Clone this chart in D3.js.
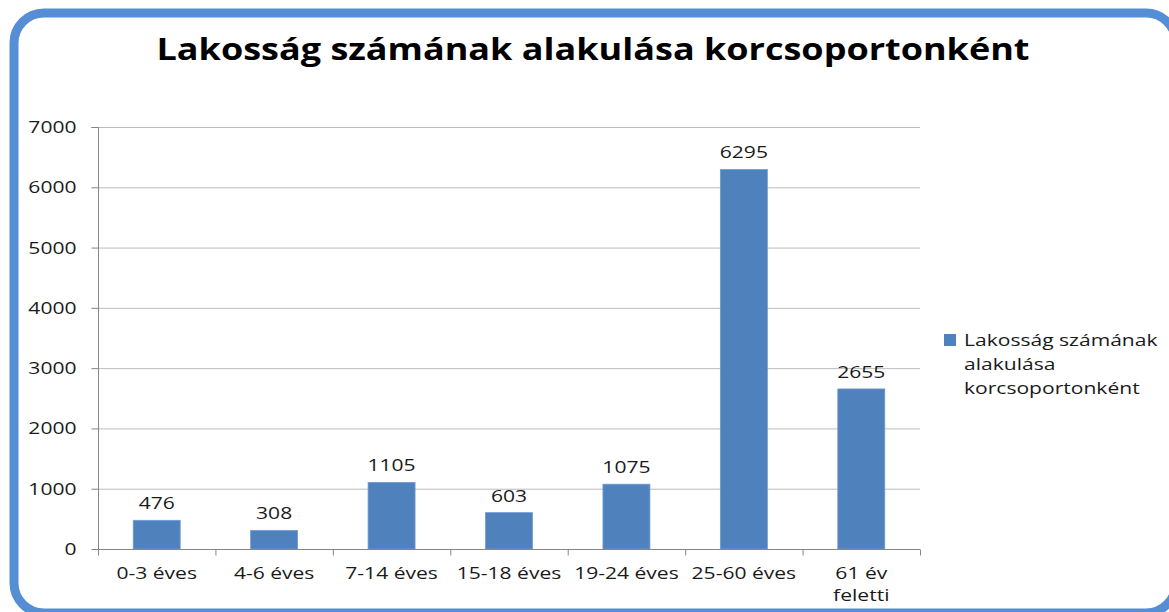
<!DOCTYPE html>
<html><head><meta charset="utf-8">
<script src="https://cdn.jsdelivr.net/npm/d3@7"></script>
<style>body{margin:0;background:#fff;overflow:hidden}text{font-family:"Open Sans",sans-serif}</style>
</head><body>
<svg id="c" width="1169" height="612"></svg>
<script>
const title = "Lakosság számának alakulása korcsoportonként";
const seriesName = "Lakosság számának alakulása korcsoportonként";
const legendLines = ["Lakosság számának", "alakulása", "korcsoportonként"];
const categories = ["0-3 éves", "4-6 éves", "7-14 éves", "15-18 éves", "19-24 éves", "25-60 éves", "61 év\nfeletti"];
const values = [476, 308, 1105, 603, 1075, 6295, 2655];
const yTicks = [0, 1000, 2000, 3000, 4000, 5000, 6000, 7000];

const svg = d3.select("#c");
const SX = 1.24;
const stretch = (sel, cx) => sel.attr("transform", function(){
  const x = cx != null ? cx : +d3.select(this).attr("x") || 0;
  return `translate(${x},0) scale(${SX},1) translate(${-x},0)`;
});

// frame
svg.append("rect").attr("x", 14).attr("y", 13).attr("width", 1162).attr("height", 600)
  .attr("rx", 30).attr("fill", "#fff").attr("stroke", "#558ed5").attr("stroke-width", 9);

const L = 98, R = 920, T = 127, B = 549;
const x = d3.scaleBand().domain(categories).range([L, R]).paddingInner(0.6).paddingOuter(0.3);
const y = d3.scaleLinear().domain([0, 7000]).range([B, T]);

// gridlines
svg.append("g").selectAll("line").data(yTicks.filter(d => d > 0)).join("line")
  .attr("x1", L).attr("x2", R).attr("y1", d => y(d) + 0.5).attr("y2", d => y(d) + 0.5)
  .attr("stroke", "#bcbcbc").attr("stroke-width", 1);

// bars
svg.append("g").selectAll("rect").data(values).join("rect")
  .attr("x", (d, i) => x(categories[i])).attr("width", x.bandwidth())
  .attr("y", d => y(d)).attr("height", d => B - y(d))
  .attr("fill", "#4f81bd").attr("stroke", "#6f9bd2").attr("stroke-width", 0.8);

// y axis
const ya = d3.axisLeft(y).tickValues(yTicks).tickSize(7).tickPadding(15).tickFormat(d3.format("d"));
const gy = svg.append("g").attr("transform", `translate(${L + 0.5},0)`).call(ya);
gy.select(".domain").attr("stroke", "#868686").attr("d", `M-7,${T + 0.5}H0V${B + 0.5}`);
gy.selectAll(".tick line").attr("stroke", "#868686");
gy.selectAll(".tick text").attr("font-size", 17).attr("fill", "#1a1a1a")
  .style("font-family", '"Open Sans",sans-serif').each(function(){ stretch(d3.select(this), -22); });

// x axis
const xa = d3.axisBottom(x).tickSize(0).tickPadding(0);
const gx = svg.append("g").attr("transform", `translate(0,${B + 0.5})`).call(xa);
gx.select(".domain").attr("stroke", "#868686").attr("d", `M${L},0H${R}`);
gx.selectAll(".tick text").text(null).attr("dy", null).attr("y", null)
  .attr("font-size", 17).attr("fill", "#1a1a1a")
  .style("font-family", '"Open Sans",sans-serif')
  .each(function(d){
    const t = d3.select(this);
    d.split("\n").forEach((s, k) => t.append("tspan").attr("x", 0).attr("y", 30 + k * 22).text(s));
    stretch(t, 0);
  });
// category boundary ticks
const bounds = d3.range(categories.length + 1).map(i => x.range()[0] + i * x.step());
gx.append("g").selectAll("line").data(bounds).join("line")
  .attr("x1", d => d + 0.5).attr("x2", d => d + 0.5).attr("y1", 0).attr("y2", 6)
  .attr("stroke", "#868686");

// data labels
svg.append("g").selectAll("text").data(values).join("text")
  .attr("x", (d, i) => x(categories[i]) + x.bandwidth() / 2).attr("y", d => y(d) - 11)
  .attr("text-anchor", "middle").attr("font-size", 17).attr("fill", "#1a1a1a")
  .text(d => d).each(function(){ stretch(d3.select(this)); });

// title
svg.append("text").attr("x", 593).attr("y", 60).attr("text-anchor", "middle")
  .attr("font-size", 30).attr("font-weight", "bold").attr("fill", "#000")
  .attr("textLength", 873).attr("lengthAdjust", "spacingAndGlyphs").text(title);

// legend
const lg = svg.append("g");
lg.append("rect").attr("x", 944).attr("y", 334).attr("width", 12).attr("height", 12).attr("fill", "#4f81bd");
lg.selectAll("text").data(legendLines).join("text")
  .attr("x", 964).attr("y", (d, i) => 346 + i * 24).attr("font-size", 17).attr("fill", "#1a1a1a")
  .text(d => d).each(function(){ stretch(d3.select(this), 964); });
</script>
</body></html>
